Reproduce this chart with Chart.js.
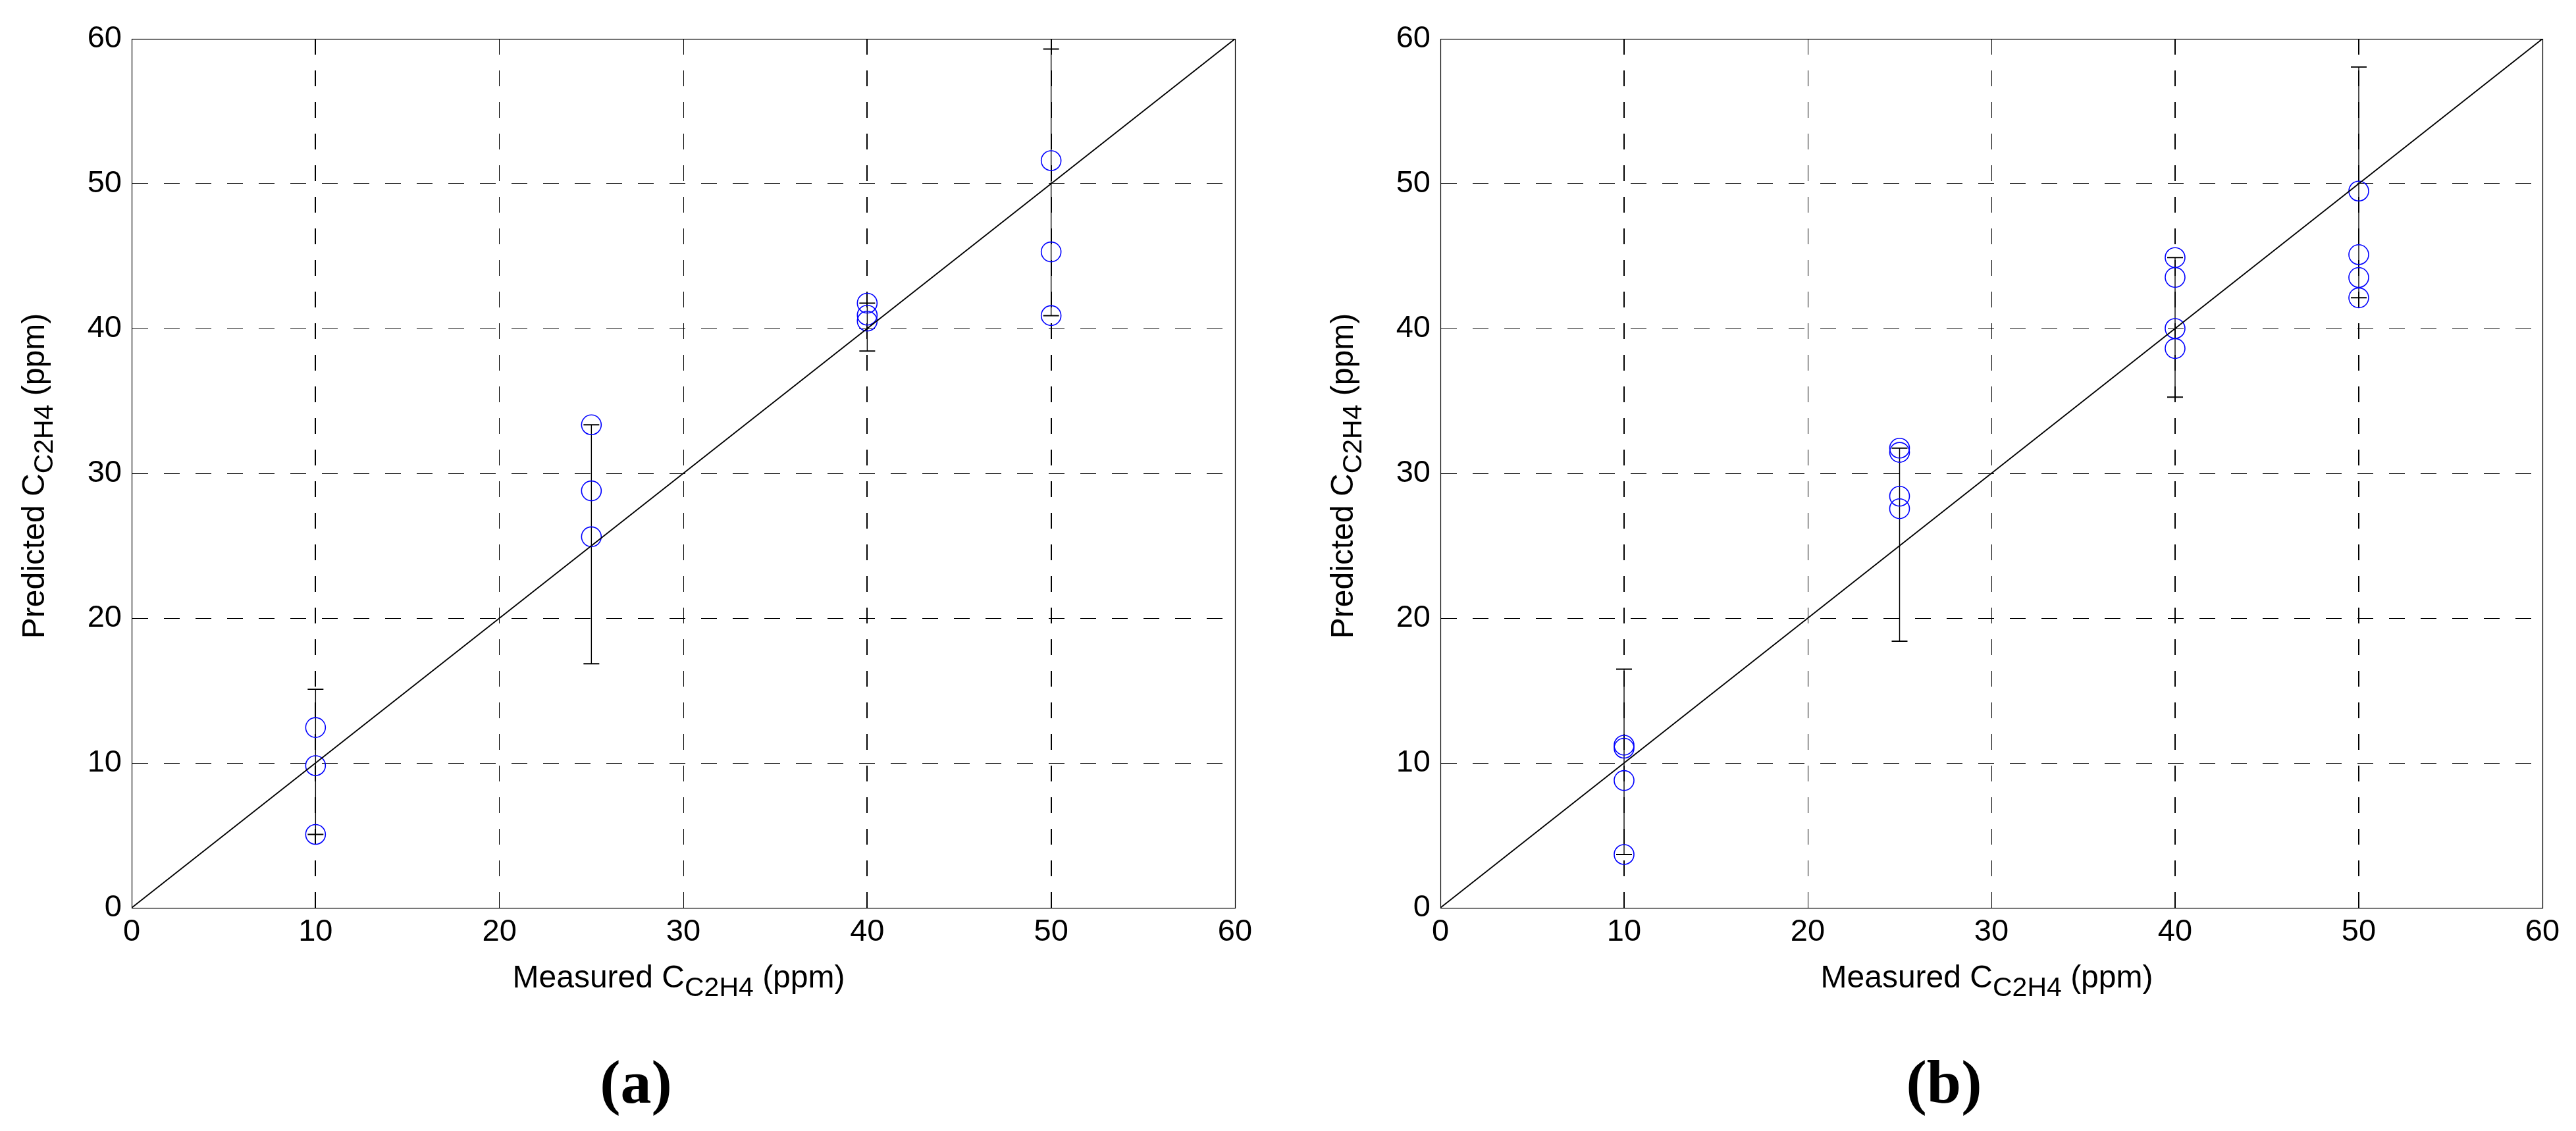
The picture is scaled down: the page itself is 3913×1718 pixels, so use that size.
<!DOCTYPE html>
<html><head><meta charset="utf-8">
<script src="https://cdn.jsdelivr.net/npm/chart.js@4.4.0/dist/chart.umd.min.js"></script>
<style>
html,body{margin:0;padding:0;background:#fff;width:3913px;height:1718px;overflow:hidden}
canvas{position:absolute;top:0}
#ca{left:0}
#cb{left:1957px}
</style></head><body>
<canvas id="ca" width="1956" height="1718"></canvas>
<canvas id="cb" width="1956" height="1718"></canvas>
<script>
// ---------- data ----------
const tickStep = 10;
const axisMin = 0;
const axisMax = 60;
const xTitle = ['Measured C', 'C2H4', ' (ppm)'];
const yTitle = ['Predicted C', 'C2H4', ' (ppm)'];
const panelLabels = ['(a)', '(b)'];

const refLineX = [0, 60];
const refLineY = [0, 60];

// panel (a)
const measuredA  = [10, 10, 10, 25, 25, 25, 40, 40, 40, 50, 50, 50];
const predictedA = [12.45, 9.82, 5.07, 33.35, 28.79, 25.62, 41.75, 40.92, 40.51, 51.59, 45.29, 40.89];
const errXA    = [10, 25, 40, 50];
const errLowA  = [5.07, 16.85, 38.44, 40.89];
const errHighA = [15.09, 33.35, 41.75, 59.3];

// panel (b)
const measuredB  = [10, 10, 10, 10, 25, 25, 25, 25, 40, 40, 40, 40, 50, 50, 50, 50];
const predictedB = [11.23, 11.02, 8.79, 3.68, 31.74, 31.45, 28.42, 27.56, 44.90, 43.53, 40.0, 38.62, 49.49, 45.1, 43.52, 42.12];
const errXB    = [10, 25, 40, 50];
const errLowB  = [3.68, 18.41, 35.26, 42.12];
const errHighB = [16.48, 31.74, 44.90, 58.06];

// ---------- styling ----------
const SANS = '"Liberation Sans", Arial, Helvetica, sans-serif';
const SERIF = '"Liberation Serif", "Times New Roman", serif';
const TICK_SIZE = 47;
const TITLE_SIZE = 48;
const SUB_SIZE = 41;
const SUB_SHIFT = 13;

function drawRich(ctx, parts, cx, baseY) {
  ctx.font = TITLE_SIZE + 'px ' + SANS;
  const w0 = ctx.measureText(parts[0]).width;
  const w2 = ctx.measureText(parts[2]).width;
  ctx.font = SUB_SIZE + 'px ' + SANS;
  const w1 = ctx.measureText(parts[1]).width;
  const total = w0 + w1 + w2;
  let x = cx - total / 2;
  ctx.textAlign = 'left';
  ctx.textBaseline = 'alphabetic';
  ctx.fillStyle = '#000';
  ctx.font = TITLE_SIZE + 'px ' + SANS;
  ctx.fillText(parts[0], x, baseY);
  x += w0;
  ctx.font = SUB_SIZE + 'px ' + SANS;
  ctx.fillText(parts[1], x, baseY + SUB_SHIFT);
  x += w1;
  ctx.font = TITLE_SIZE + 'px ' + SANS;
  ctx.fillText(parts[2], x, baseY);
}

function makeChart(id, measured, predicted, errX, errLow, errHigh, label, geom) {
  const points = measured.map((m, i) => ({x: m, y: predicted[i]}));
  const line = refLineX.map((v, i) => ({x: v, y: refLineY[i]}));

  const decor = {
    id: 'decor_' + id,
    beforeDatasetsDraw(chart) {
      const {ctx, scales: {x, y}} = chart;
      ctx.save();
      ctx.strokeStyle = '#000';
      for (let i = 0; i < errX.length; i++) {
        const px = x.getPixelForValue(errX[i]);
        const pLo = y.getPixelForValue(errLow[i]);
        const pHi = y.getPixelForValue(errHigh[i]);
        ctx.lineWidth = 1.4;
        ctx.beginPath();
        ctx.moveTo(px, pLo); ctx.lineTo(px, pHi);
        ctx.stroke();
        ctx.lineWidth = 2;
        ctx.beginPath();
        ctx.moveTo(px - 12, pLo); ctx.lineTo(px + 12, pLo);
        ctx.moveTo(px - 12, pHi); ctx.lineTo(px + 12, pHi);
        ctx.stroke();
      }
      ctx.restore();
    },
    afterDraw(chart) {
      const {ctx, chartArea: a} = chart;
      ctx.save();
      ctx.strokeStyle = '#000';
      ctx.lineWidth = 1.2;
      ctx.strokeRect(Math.round(a.left) + 0.5, Math.round(a.top) + 0.5,
                     Math.round(a.right - a.left), Math.round(a.bottom - a.top));
      const cx = (a.left + a.right) / 2;
      const cy = (a.top + a.bottom) / 2;
      drawRich(ctx, xTitle, cx - 7, a.bottom + 121);
      ctx.save();
      ctx.translate(a.left - 133, cy + 4);
      ctx.rotate(-Math.PI / 2);
      drawRich(ctx, yTitle, 0, 0);
      ctx.restore();
      ctx.font = 'bold 94px ' + SERIF;
      ctx.textAlign = 'center';
      ctx.textBaseline = 'alphabetic';
      ctx.fillStyle = '#000';
      ctx.fillText(label, cx - 72, a.bottom + 296);
      ctx.restore();
    }
  };

  return new Chart(document.getElementById(id), {
    type: 'scatter',
    data: {
      datasets: [
        {
          type: 'line',
          data: line,
          borderColor: '#000',
          borderWidth: 1.8,
          pointRadius: 0,
          fill: false,
          tension: 0
        },
        {
          type: 'scatter',
          data: points,
          pointStyle: 'circle',
          pointRadius: 15,
          pointHoverRadius: 15,
          borderColor: '#0000ff',
          backgroundColor: 'rgba(0,0,0,0)',
          borderWidth: 1.6
        }
      ]
    },
    options: {
      responsive: false,
      animation: false,
      events: [],
      layout: {padding: {left: 0, top: 59, right: geom.padRight, bottom: 0}},
      plugins: {legend: {display: false}, tooltip: {enabled: false}, title: {display: false}},
      scales: {
        x: {
          type: 'linear', min: axisMin, max: axisMax,
          afterFit(s) { s.height = 339; },
          ticks: {stepSize: tickStep, padding: 9, color: '#000', font: {family: SANS, size: TICK_SIZE}},
          grid: {
            color: '#000',
            lineWidth: c => (c.tick && errX.includes(c.tick.value) && c.tick.value > axisMin && c.tick.value < axisMax) ? 2 : 1,
            drawTicks: false
          },
          border: {display: true, color: '#000', width: 1, dash: [24, 24]}
        },
        y: {
          type: 'linear', min: axisMin, max: axisMax,
          afterFit(s) { s.width = geom.yWidth; },
          ticks: {stepSize: tickStep, padding: 15, color: '#000', font: {family: SANS, size: TICK_SIZE}},
          grid: {color: '#000', lineWidth: 1, drawTicks: false},
          border: {display: true, color: '#000', width: 1, dash: [24, 24]}
        }
      }
    },
    plugins: [decor]
  });
}

makeChart('ca', measuredA, predictedA, errXA, errLowA, errHighA, panelLabels[0], {yWidth: 200, padRight: 80});
makeChart('cb', measuredB, predictedB, errXB, errLowB, errHighB, panelLabels[1], {yWidth: 231, padRight: 51});
</script>
</body></html>
